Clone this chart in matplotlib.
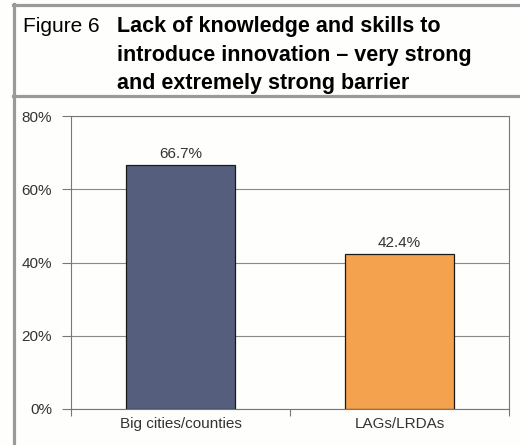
import matplotlib.pyplot as plt
from matplotlib.lines import Line2D
from matplotlib.ticker import FuncFormatter

categories = ["Big cities/counties", "LAGs/LRDAs"]
values = [66.7, 42.4]
bar_colors = ["#565E7E", "#F4A24E"]
yticks = [0, 20, 40, 60, 80]

plt.rcParams['font.family'] = ['Liberation Sans', 'DejaVu Sans']

W, H = 520, 445
fig = plt.figure(figsize=(W / 100, H / 100), dpi=100)
fig.patch.set_facecolor("#FEFEFC")

# frame around the figure (left, top, under the header)
frame = "#9A9A9A"
fig.add_artist(Line2D([14 / W, 14 / W], [0, 1 - 4 / H], color=frame, lw=2.3))
fig.add_artist(Line2D([13 / W, 1], [1 - 5 / H, 1 - 5 / H], color=frame, lw=2.3))
fig.add_artist(Line2D([13 / W, 1], [1 - 96 / H, 1 - 96 / H], color=frame, lw=2.3))

# header
fig.text(23 / W, 1 - 32 / H, "Figure 6", fontsize=15, va="baseline", ha="left")
title_lines = ["Lack of knowledge and skills to",
               "introduce innovation \u2013 very strong",
               "and extremely strong barrier"]
for i, line in enumerate(title_lines):
    fig.text(117 / W, 1 - (32 + 28.5 * i) / H, line, fontsize=15.5, fontweight="bold",
             va="baseline", ha="left")

ax = fig.add_axes([71 / W, 1 - 409 / H, (509 - 71) / W, (409 - 116) / H])
ax.set_facecolor("#FEFEFC")

x = range(len(categories))
ax.bar(x, values, width=0.5, color=bar_colors, edgecolor="#1a1a1a", linewidth=0.9, zorder=3)
for xi, v in zip(x, values):
    ax.text(xi, v + 1.0, "{:.1f}%".format(v), ha="center", va="bottom", fontsize=11, color="#333333")

ax.set_xlim(-0.5, 1.5)
ax.set_ylim(0, 80)
ax.set_yticks(yticks)
ax.yaxis.set_major_formatter(FuncFormatter(lambda v, p: "{:.0f}%".format(v)))
ax.set_xticks(list(x))
ax.set_xticklabels(categories, fontsize=11, color="#333333")
ax.set_xticks([-0.5, 0.5, 1.5], minor=True)
ax.tick_params(axis="x", which="major", length=0, pad=6)
ax.tick_params(axis="x", which="minor", length=5, color="#777777", width=0.8)
ax.tick_params(axis="y", length=6.5, color="#777777", width=0.8, pad=7, labelsize=11, labelcolor="#333333")

ax.grid(axis="y", color="#8A8A8A", linewidth=0.8, zorder=0)
for s in ax.spines.values():
    s.set_color("#777777")
    s.set_linewidth(0.8)

fig.savefig("out.png", dpi=100, facecolor=fig.get_facecolor())
